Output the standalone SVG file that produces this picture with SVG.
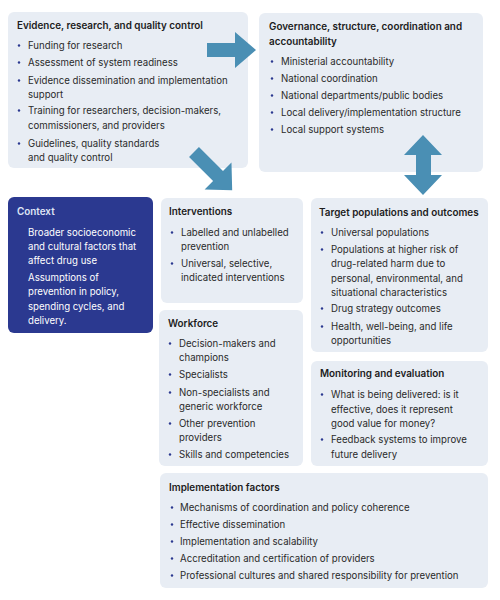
<svg xmlns="http://www.w3.org/2000/svg" width="500" height="600" viewBox="0 0 500 600">
<style>
.box{fill:#e8edf4}
.ctx{fill:#2b3990}
.t{font-family:Inter,"Noto Sans",sans-serif;font-size:9.9px;font-weight:600;fill:#1c1c1c}
.b{font-family:Inter,"Noto Sans",sans-serif;font-size:9.65px;fill:#2a2a2a}
.ct{font-family:Inter,"Noto Sans",sans-serif;font-size:9.9px;font-weight:600;fill:#dfe5f5}
.cb{font-family:Inter,"Noto Sans",sans-serif;font-size:9.65px;fill:#ffffff}
.dot{fill:#2b3990}
.arr{fill:#4a8fb4}
</style>
<rect width="500" height="600" fill="#ffffff"/>
<g id="evidence">
<rect class="box" x="8" y="12" width="240" height="156" rx="6"/>
<text class="t" x="17" y="29">Evidence, research, and quality control</text>
<circle class="dot" cx="19" cy="45.5" r="1.2"/><text class="b" x="28" y="49">Funding for research</text>
<circle class="dot" cx="19" cy="62.5" r="1.2"/><text class="b" x="28" y="66">Assessment of system readiness</text>
<circle class="dot" cx="19" cy="80.5" r="1.2"/><text class="b" x="28" y="84">Evidence dissemination and implementation</text>
<text class="b" x="28" y="97.5">support</text>
<circle class="dot" cx="19" cy="110.5" r="1.2"/><text class="b" x="28" y="114">Training for researchers, decision-makers,</text>
<text class="b" x="28" y="128.5">commissioners, and providers</text>
<circle class="dot" cx="19" cy="143.5" r="1.2"/><text class="b" x="28" y="147">Guidelines, quality standards</text>
<text class="b" x="28" y="160.5">and quality control</text>
</g>
<g id="governance">
<rect class="box" x="259" y="13" width="224" height="159" rx="6"/>
<text class="t" x="269" y="30">Governance, structure, coordination and</text>
<text class="t" x="269" y="45">accountability</text>
<circle class="dot" cx="272" cy="61.5" r="1.2"/><text class="b" x="281" y="65">Ministerial accountability</text>
<circle class="dot" cx="272" cy="78.5" r="1.2"/><text class="b" x="281" y="82">National coordination</text>
<circle class="dot" cx="272" cy="95.5" r="1.2"/><text class="b" x="281" y="99">National departments/public bodies</text>
<circle class="dot" cx="272" cy="112.5" r="1.2"/><text class="b" x="281" y="116">Local delivery/implementation structure</text>
<circle class="dot" cx="272" cy="129.5" r="1.2"/><text class="b" x="281" y="133">Local support systems</text>
</g>
<g id="context">
<rect class="ctx" x="8" y="197" width="145" height="136" rx="6"/>
<text class="ct" x="17" y="215">Context</text>
<text class="cb" x="28" y="236">Broader socioeconomic</text>
<text class="cb" x="28" y="250">and cultural factors that</text>
<text class="cb" x="28" y="264">affect drug use</text>
<text class="cb" x="28" y="281">Assumptions of</text>
<text class="cb" x="28" y="295">prevention in policy,</text>
<text class="cb" x="28" y="309.5">spending cycles, and</text>
<text class="cb" x="28" y="324">delivery.</text>
</g>
<g id="interventions">
<rect class="box" x="161" y="198" width="142" height="105" rx="6"/>
<text class="t" x="169" y="215">Interventions</text>
<circle class="dot" cx="172" cy="232.5" r="1.2"/><text class="b" x="181" y="236">Labelled and unlabelled</text>
<text class="b" x="181" y="250">prevention</text>
<circle class="dot" cx="172" cy="263.5" r="1.2"/><text class="b" x="181" y="267">Universal, selective,</text>
<text class="b" x="181" y="281">indicated interventions</text>
</g>
<g id="target">
<rect class="box" x="311" y="198" width="177" height="154" rx="6"/>
<text class="t" x="319" y="216">Target populations and outcomes</text>
<circle class="dot" cx="322" cy="232.5" r="1.2"/><text class="b" x="331" y="236">Universal populations</text>
<circle class="dot" cx="322" cy="249.5" r="1.2"/><text class="b" x="331" y="253">Populations at higher risk of</text>
<text class="b" x="331" y="267">drug-related harm due to</text>
<text class="b" x="331" y="281.5">personal, environmental, and</text>
<text class="b" x="331" y="295.5">situational characteristics</text>
<circle class="dot" cx="322" cy="308.5" r="1.2"/><text class="b" x="331" y="312">Drug strategy outcomes</text>
<circle class="dot" cx="322" cy="326.5" r="1.2"/><text class="b" x="331" y="330">Health, well-being, and life</text>
<text class="b" x="331" y="344">opportunities</text>
</g>
<g id="workforce">
<rect class="box" x="159" y="310" width="144" height="156" rx="6"/>
<text class="t" x="168" y="327">Workforce</text>
<circle class="dot" cx="170" cy="343.5" r="1.2"/><text class="b" x="179" y="347">Decision-makers and</text>
<text class="b" x="179" y="361">champions</text>
<circle class="dot" cx="170" cy="374.5" r="1.2"/><text class="b" x="179" y="378">Specialists</text>
<circle class="dot" cx="170" cy="392.5" r="1.2"/><text class="b" x="179" y="396">Non-specialists and</text>
<text class="b" x="179" y="410">generic workforce</text>
<circle class="dot" cx="170" cy="423.5" r="1.2"/><text class="b" x="179" y="427">Other prevention</text>
<text class="b" x="179" y="441">providers</text>
<circle class="dot" cx="170" cy="454.5" r="1.2"/><text class="b" x="179" y="458">Skills and competencies</text>
</g>
<g id="monitoring">
<rect class="box" x="311" y="361" width="177" height="105" rx="6"/>
<text class="t" x="320" y="377">Monitoring and evaluation</text>
<circle class="dot" cx="322" cy="394.5" r="1.2"/><text class="b" x="331" y="398">What is being delivered: is it</text>
<text class="b" x="331" y="412.5">effective, does it represent</text>
<text class="b" x="331" y="427">good value for money?</text>
<circle class="dot" cx="322" cy="439.5" r="1.2"/><text class="b" x="331" y="443">Feedback systems to improve</text>
<text class="b" x="331" y="458">future delivery</text>
</g>
<g id="implementation">
<rect class="box" x="160" y="473" width="328" height="115" rx="6"/>
<text class="t" x="169" y="491">Implementation factors</text>
<circle class="dot" cx="172" cy="507.5" r="1.2"/><text class="b" x="180" y="511">Mechanisms of coordination and policy coherence</text>
<circle class="dot" cx="172" cy="524.5" r="1.2"/><text class="b" x="180" y="528">Effective dissemination</text>
<circle class="dot" cx="172" cy="541.5" r="1.2"/><text class="b" x="180" y="545">Implementation and scalability</text>
<circle class="dot" cx="172" cy="558.5" r="1.2"/><text class="b" x="180" y="562">Accreditation and certification of providers</text>
<circle class="dot" cx="172" cy="575.5" r="1.2"/><text class="b" x="180" y="579">Professional cultures and shared responsibility for prevention</text>
</g>
<g id="connectors">
<polygon class="arr" points="207,43 235,43 235,32 256,50 235,68 235,57 207,57"/>
<polygon class="arr" transform="translate(194,152) rotate(45)" points="0,-7 34,-7 34,-19 54,0 34,19 34,7 0,7"/>
<polygon class="arr" points="423,135 442,155 431,155 431,175 442,175 423,195 404,175 416,175 416,155 404,155"/>
</g>
</svg>
